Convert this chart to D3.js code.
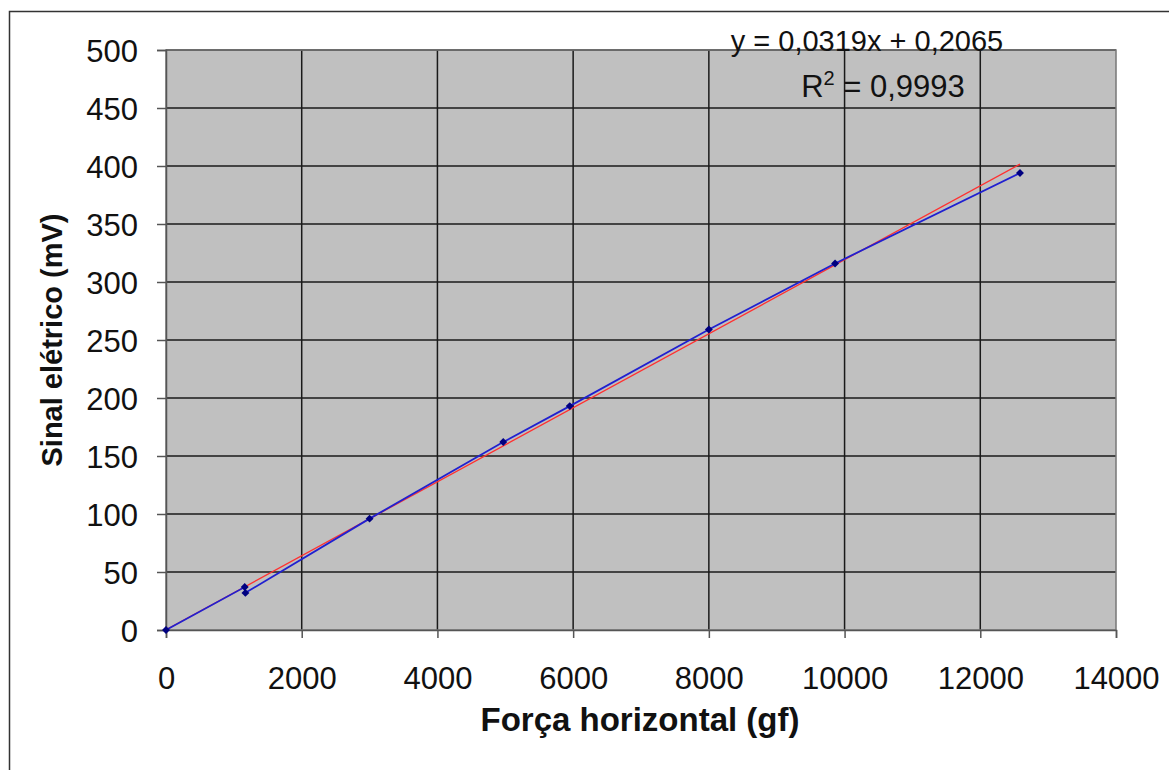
<!DOCTYPE html>
<html>
<head>
<meta charset="utf-8">
<script src="https://cdn.jsdelivr.net/npm/d3@7"></script>
<style>
  body { margin: 0; background: #fff; }
  svg { display: block; font-family: "Liberation Sans", Arial, sans-serif; }
</style>
</head>
<body>
<div id="chart"></div>
<script>
// measured points, in the order the series is drawn
const forceGf = [0, 1160, 1170, 3000, 4970, 5950, 8000, 9860, 12585];
const signalMv = [0, 37, 32, 96, 162, 193, 259, 316, 394];
const xTicks = [0, 2000, 4000, 6000, 8000, 10000, 12000, 14000];
const yTicks = [0, 50, 100, 150, 200, 250, 300, 350, 400, 450, 500];
const slope = 0.0319;
const intercept = 0.2065;
const eqLabel = 'y = 0,0319x + 0,2065';
const r2Value = '0,9993';

const width = 1169, height = 770;
const margin = {top: 50, right: 53, bottom: 140, left: 166};
const plotW = width - margin.left - margin.right;
const plotH = height - margin.top - margin.bottom;

const svg = d3.select('#chart').append('svg')
  .attr('width', width).attr('height', height);

// outer chart frame (right/bottom run off the picture)
svg.append('rect')
  .attr('x', 9.5).attr('y', 11.5)
  .attr('width', width + 20).attr('height', height + 20)
  .attr('fill', 'none').attr('stroke', '#333').attr('stroke-width', 1.5);

const x = d3.scaleLinear().domain([0, 14000]).range([0, plotW]);
const y = d3.scaleLinear().domain([0, 500]).range([plotH, 0]);

const g = svg.append('g').attr('transform', `translate(${margin.left},${margin.top})`);

g.append('rect')
  .attr('width', plotW).attr('height', plotH)
  .attr('fill', '#c0c0c0');

// gridlines
g.append('g').selectAll('line').data(yTicks.slice(1)).join('line')
  .attr('x1', 0).attr('x2', plotW)
  .attr('y1', d => y(d)).attr('y2', d => y(d))
  .attr('stroke', '#1a1a1a').attr('stroke-width', 1.5);
g.append('g').selectAll('line').data(xTicks.slice(1, -1)).join('line')
  .attr('y1', 0).attr('y2', plotH)
  .attr('x1', d => x(d)).attr('x2', d => x(d))
  .attr('stroke', '#1a1a1a').attr('stroke-width', 1.5);

g.append('rect')
  .attr('width', plotW).attr('height', plotH)
  .attr('fill', 'none').attr('stroke', '#777').attr('stroke-width', 1.5);

const xAxis = g.append('g').attr('transform', `translate(0,${plotH})`)
  .call(d3.axisBottom(x).tickValues(xTicks).tickFormat(d3.format('d')).tickSize(8).tickPadding(29));
const yAxis = g.append('g')
  .call(d3.axisLeft(y).tickValues(yTicks).tickFormat(d3.format('d')).tickSize(9).tickPadding(19));

[xAxis, yAxis].forEach(a => {
  a.select('.domain').attr('stroke', '#555').attr('stroke-width', 1.5);
  a.selectAll('.tick line').attr('stroke', '#555').attr('stroke-width', 1.5);
  a.selectAll('.tick text').attr('fill', '#111').style('font-size', '31px');
});
yAxis.selectAll('.tick text').attr('dy', '0.36em');

// linear trendline
const xMax = d3.max(forceGf);
g.append('line')
  .attr('x1', x(0)).attr('y1', y(intercept))
  .attr('x2', x(xMax)).attr('y2', y(slope * xMax + intercept))
  .attr('stroke', '#ff3030').attr('stroke-width', 1.3);

const pts = forceGf.map((f, i) => [f, signalMv[i]]);
g.append('path')
  .datum(pts)
  .attr('d', d3.line().x(d => x(d[0])).y(d => y(d[1])))
  .attr('fill', 'none').attr('stroke', '#2020d0').attr('stroke-width', 1.8);

g.append('g').selectAll('path').data(pts).join('path')
  .attr('transform', d => `translate(${x(d[0])},${y(d[1])})`)
  .attr('d', d3.symbol(d3.symbolDiamond2, 40))
  .attr('fill', '#000080');

// equation labels
svg.append('text')
  .attr('x', 867).attr('y', 51).attr('text-anchor', 'middle')
  .style('font-size', '29px').attr('fill', '#111')
  .text(eqLabel);
const r2 = svg.append('text')
  .attr('x', 883).attr('y', 97).attr('text-anchor', 'middle')
  .style('font-size', '31px').attr('fill', '#111');
r2.append('tspan').text('R');
r2.append('tspan').attr('dy', -12).style('font-size', '20px').text('2');
r2.append('tspan').attr('dy', 12).text(' = ' + r2Value);

// axis titles
svg.append('text')
  .attr('x', margin.left + plotW / 2 - 1).attr('y', 731)
  .attr('text-anchor', 'middle')
  .style('font-size', '33px').style('font-weight', 'bold').attr('fill', '#111')
  .text('Força horizontal (gf)');
svg.append('text')
  .attr('transform', `translate(62,${margin.top + plotH / 2}) rotate(-90)`)
  .attr('text-anchor', 'middle')
  .style('font-size', '29px').style('font-weight', 'bold').attr('fill', '#111')
  .text('Sinal elétrico (mV)');
</script>
</body>
</html>
